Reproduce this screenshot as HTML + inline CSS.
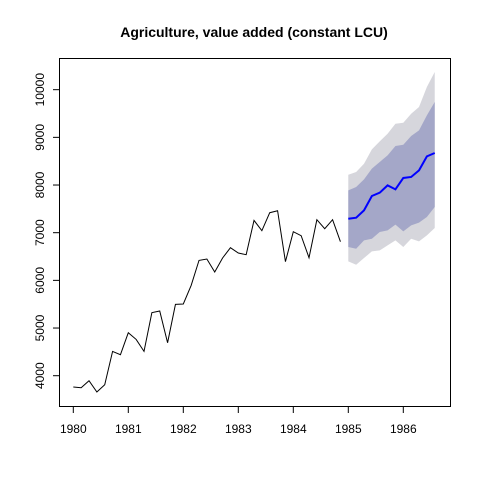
<!DOCTYPE html>
<html><head><meta charset="utf-8"><style>
body{margin:0;background:#fff}
svg text{font-family:"Liberation Sans",Arial,sans-serif}
</style></head><body>
<svg id="c" width="480" height="480">
<text x="254" y="37" text-anchor="middle" font-size="14" font-weight="bold">Agriculture, value added (constant LCU)</text>
<rect x="59.5" y="58.5" width="391" height="348" fill="none" stroke="#000" stroke-width="1"/>
<g id="g"></g>
</svg>
<script>
const history = [3763,3748,3895,3658,3811,4510,4440,4902,4761,4510,5322,5357,4692,5496,5504,5894,6419,6448,6175,6469,6685,6574,6538,7258,7042,7419,7461,6392,7021,6937,6475,7272,7084,7272,6811];
const fcMean = [7293,7314,7468,7770,7839,7993,7909,8148,8169,8307,8601,8672];
const lo80 = [6700,6664,6838,6874,7014,7048,7168,7027,7153,7210,7329,7539];
const hi80 = [7887,7958,8118,8343,8483,8621,8818,8846,9028,9146,9460,9742];
const lo95 = [6398,6328,6469,6607,6628,6733,6838,6700,6874,6817,6943,7098];
const hi95 = [8216,8273,8447,8747,8915,9076,9286,9307,9496,9637,10056,10371];
const xTicks = [1980,1981,1982,1983,1984,1985,1986];
const yTicks = [4000,5000,6000,7000,8000,9000,10000];
const startYear = 1980, freq = 7;
const X = t => 73.3 + (t - 1980) * 55;
const Y = v => 375.7 - (v - 4000) * 0.04767;
const ns = "http://www.w3.org/2000/svg";
const g = document.getElementById('g');
function mk(tag, attrs){const e=document.createElementNS(ns,tag);for(const k in attrs)e.setAttribute(k,attrs[k]);g.appendChild(e);return e;}
const tH = i => startYear + i / freq;
const tF = i => startYear + (history.length + i) / freq;
function band(lo, hi){
  let p = hi.map((v,i)=>X(tF(i))+','+Y(v));
  p = p.concat(lo.map((v,i)=>X(tF(i))+','+Y(v)).reverse());
  return p.join(' ');
}
let e = mk('polygon',{points:band(lo95,hi95),fill:'#d6d6dc'});


e = mk('polygon',{points:band(lo80,hi80),fill:'#a4a7c8'});


e = mk('polyline',{points:history.map((v,i)=>X(tH(i))+','+Y(v)).join(' '),fill:'none',stroke:'#000','stroke-width':1});


e = mk('polyline',{points:fcMean.map((v,i)=>X(tF(i))+','+Y(v)).join(' '),fill:'none',stroke:'#0000ff','stroke-width':2});


xTicks.forEach(t=>{
  const x=X(t);
  let l=mk('line',{x1:x,x2:x,y1:406.5,y2:413,stroke:'#000'});
  
  
  let tx=mk('text',{x:x,y:433,'text-anchor':'middle','font-size':12});
  tx.textContent=t;
  
  
});
yTicks.forEach(v=>{
  const y=Y(v);
  let l=mk('line',{x1:53,x2:59.5,y1:y,y2:y,stroke:'#000'});
  
  
  let tx=mk('text',{x:0,y:0,'text-anchor':'middle','font-size':12,transform:`translate(44,${y}) rotate(-90)`});
  tx.textContent=v;
  
  
});
</script>
</body></html>
